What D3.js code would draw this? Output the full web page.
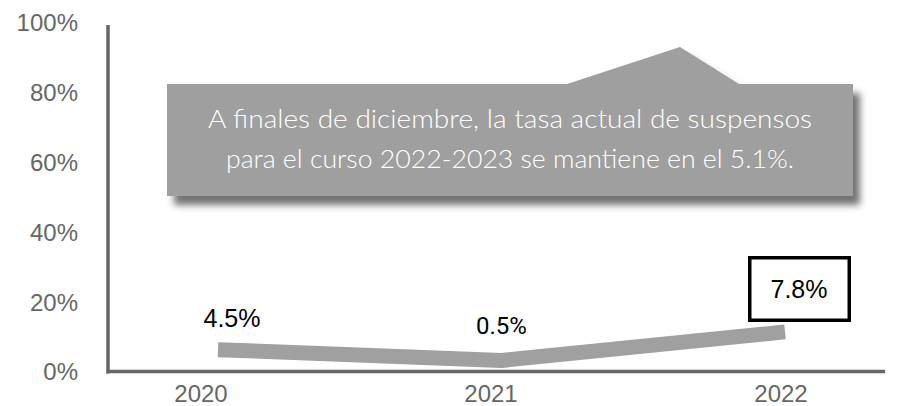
<!DOCTYPE html>
<html>
<head>
<meta charset="utf-8">
<script src="https://cdn.jsdelivr.net/npm/d3@7/dist/d3.min.js"></script>
<style>
  html, body { margin: 0; padding: 0; background: #fff; }
  svg { display: block; }
</style>
</head>
<body>
<svg id="chart" width="900" height="406"></svg>
<script>
// ---- data ----
const categories = ["2020", "2021", "2022"];
const lineValues = [6.4, 3.3, 11.5];          // plotted position of the line (%)
const dataLabels = ["4.5%", "0.5%", "7.8%"];   // labels shown on the chart
const yTicks = [0, 20, 40, 60, 80, 100];
const calloutLines = [
  "A finales de diciembre, la tasa actual de suspensos",
  "para el curso 2022-2023 se mantiene en el 5.1%."
];

// ---- layout ----
const axisLeft = 108, axisRight = 885;
const y0 = 372, yTop = 23;
const svg = d3.select("#chart");

const x = d3.scalePoint().domain(categories).range([218, 785]);       // line points
const xLab = d3.scalePoint().domain(categories).range([201, 781]);    // axis labels
const y = d3.scaleLinear().domain([0, 100]).range([y0, yTop]);

const defs = svg.append("defs");
const f = defs.append("filter").attr("id", "shadow")
  .attr("x", "-10%").attr("y", "-20%").attr("width", "130%").attr("height", "160%");
f.append("feDropShadow").attr("dx", 7).attr("dy", 9).attr("stdDeviation", 3.5)
  .attr("flood-color", "#000").attr("flood-opacity", 0.55);

// y tick labels
svg.append("g").selectAll("text").data(yTicks).join("text")
  .attr("x", 78).attr("y", d => y(d))
  .attr("dy", "0.35em")
  .attr("text-anchor", "end")
  .attr("font-family", "Liberation Sans, Arial, sans-serif")
  .attr("font-size", 24)
  .attr("fill", "#666")
  .text(d => d + "%");

// axes lines
svg.append("line")
  .attr("x1", axisLeft).attr("x2", axisLeft)
  .attr("y1", 25).attr("y2", y0 + 1.5)
  .attr("stroke", "#666").attr("stroke-width", 3.5);
svg.append("line")
  .attr("x1", axisLeft - 1.5).attr("x2", axisRight)
  .attr("y1", y0 - 0.5).attr("y2", y0 - 0.5)
  .attr("stroke", "#666").attr("stroke-width", 3.5);

// category labels
svg.append("g").selectAll("text").data(categories).join("text")
  .attr("x", d => xLab(d)).attr("y", 402)
  .attr("text-anchor", "middle")
  .attr("font-family", "Liberation Sans, Arial, sans-serif")
  .attr("font-size", 24)
  .attr("fill", "#666")
  .text(d => d);

// line
const line = d3.line().x((d, i) => x(categories[i])).y(d => y(d));
svg.append("path")
  .datum(lineValues)
  .attr("d", line)
  .attr("fill", "none")
  .attr("stroke", "#a0a0a0")
  .attr("stroke-width", 15)
  .attr("stroke-linejoin", "round")
  .attr("stroke-linecap", "butt");

// data labels
svg.append("text")
  .attr("x", x(categories[0]) + 14).attr("y", 327)
  .attr("text-anchor", "middle")
  .attr("font-family", "Liberation Sans, Arial, sans-serif")
  .attr("font-size", 25).attr("fill", "#000")
  .text(dataLabels[0]);
svg.append("text")
  .attr("x", x(categories[1])).attr("y", 334)
  .attr("text-anchor", "middle")
  .attr("font-family", "Roboto, Noto Sans, sans-serif")
  .attr("font-size", 24).attr("fill", "#000")
  .text(dataLabels[1]);

// boxed label 2022
svg.append("rect")
  .attr("x", 749.75).attr("y", 257.75)
  .attr("width", 99.5).attr("height", 62.5)
  .attr("fill", "#fff").attr("stroke", "#000").attr("stroke-width", 3.5);
svg.append("text")
  .attr("x", 799).attr("y", 298)
  .attr("text-anchor", "middle")
  .attr("font-family", "Liberation Sans, Arial, sans-serif")
  .attr("font-size", 25).attr("fill", "#000")
  .text(dataLabels[2]);

// callout
const cx0 = 167, cx1 = 853, cy0 = 84, cy1 = 196;
const callout = d3.path();
callout.moveTo(cx0, cy0);
callout.lineTo(567, cy0);
callout.lineTo(680, 47);
callout.lineTo(739, cy0);
callout.lineTo(cx1, cy0);
callout.lineTo(cx1, cy1);
callout.lineTo(cx0, cy1);
callout.closePath();
svg.append("path")
  .attr("d", callout.toString())
  .attr("fill", "#9f9f9f")
  .attr("filter", "url(#shadow)");

const lineWidths = [604, 568];
svg.append("g").selectAll("text").data(calloutLines).join("text")
  .attr("x", 510)
  .attr("y", (d, i) => 128 + i * 40)
  .attr("text-anchor", "middle")
  .attr("font-family", "Lato, Noto Sans, sans-serif")
  .attr("font-weight", 300)
  .attr("font-size", 25)
  .attr("textLength", (d, i) => lineWidths[i])
  .attr("lengthAdjust", "spacingAndGlyphs")
  .attr("fill", "#fff")
  .text(d => d);
</script>
</body>
</html>
